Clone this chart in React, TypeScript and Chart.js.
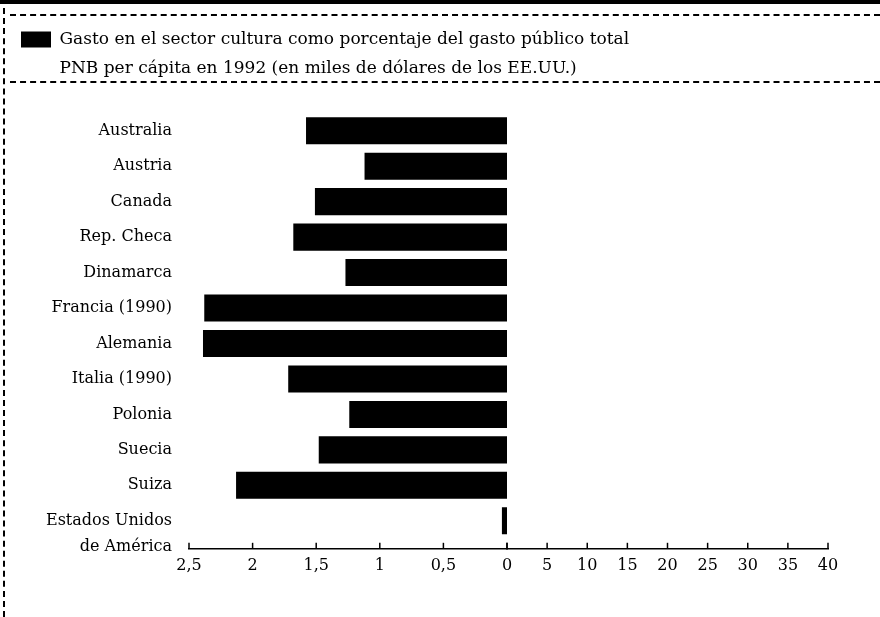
import React, { useEffect, useRef } from 'react';
import { Chart, registerables } from 'chart.js';

Chart.register(...registerables);

const countries: (string | string[])[] = [
  'Australia',
  'Austria',
  'Canada',
  'Rep. Checa',
  'Dinamarca',
  'Francia (1990)',
  'Alemania',
  'Italia (1990)',
  'Polonia',
  'Suecia',
  'Suiza',
  ['', 'Estados Unidos', 'de América'],
];

const culturePct = [1.58, 1.12, 1.51, 1.68, 1.27, 2.38, 2.39, 1.72, 1.24, 1.48, 2.13, 0.04];
const gnpPerCapita: (number | null)[] = [];

const cultureLabel = 'Gasto en el sector cultura como porcentaje del gasto público total';
const gnpLabel = 'PNB per cápita en 1992 (en miles de dólares de los EE.UU.)';

const leftMin = 0;
const leftMax = 2.5;
const leftStep = 0.5;
const rightMin = 0;
const rightMax = 40;
const rightStep = 5;

const FONT = 'DejaVu Serif';

const upTicks = {
  id: 'upTicks',
  afterDraw(chart: any) {
    const ctx = chart.ctx;
    ctx.save();
    ctx.strokeStyle = '#000';
    ctx.lineWidth = 1.5;
    ['x', 'x2'].forEach((id) => {
      const s = chart.scales[id];
      if (!s) return;
      s.ticks.forEach((t: any) => {
        const px = s.getPixelForValue(t.value);
        ctx.beginPath();
        ctx.moveTo(px, s.top);
        ctx.lineTo(px, s.top - 6);
        ctx.stroke();
      });
    });
    ctx.restore();
  },
};

export default function App() {
  const ref = useRef<HTMLCanvasElement>(null);
  useEffect(() => {
    document.body.style.margin = '0';
    const chart = new Chart(ref.current!, {
      type: 'bar',
      data: {
        labels: countries as any,
        datasets: [
          {
            label: cultureLabel,
            data: culturePct,
            xAxisID: 'x',
            yAxisID: 'y',
            backgroundColor: '#000',
            borderWidth: 0,
            grouped: false,
            categoryPercentage: 1,
            barPercentage: 0.763,
          } as any,
          {
            label: gnpLabel,
            data: gnpPerCapita,
            xAxisID: 'x2',
            yAxisID: 'y',
            backgroundColor: 'rgba(0,0,0,0)',
            borderColor: 'rgba(0,0,0,0)',
            borderWidth: 0,
            grouped: false,
            categoryPercentage: 1,
            barPercentage: 0.763,
          } as any,
        ],
      },
      options: {
        indexAxis: 'y',
        responsive: false,
        animation: false,
        layout: { padding: { left: 9, right: 52, top: 19, bottom: 35 } },
        plugins: {
          legend: {
            display: true,
            position: 'top',
            align: 'start',
            labels: {
              boxWidth: 30,
              boxHeight: 16,
              padding: 12,
              color: '#000',
              font: { family: FONT, size: 17 },
            },
          },
          tooltip: { enabled: false },
        },
        scales: {
          pad: {
            type: 'linear',
            position: 'top',
            display: true,
            grid: { display: false, drawTicks: false },
            border: { display: false },
            ticks: { display: false },
            afterFit: (s: any) => {
              s.height = 26;
            },
          },
          y: {
            type: 'category',
            position: 'left',
            grid: { display: false, drawTicks: false },
            border: { display: false },
            ticks: {
              color: '#000',
              padding: 17,
              autoSkip: false,
              font: { family: FONT, size: 16, lineHeight: 1.6 },
            },
            afterFit: (s: any) => {
              s.width = 180;
            },
            afterBuildTicks: (s: any) => {
              s._valueRange = 12.29;
            },
          },
          x: {
            type: 'linear',
            position: 'bottom',
            stack: 'bottomStack',
            stackWeight: 318,
            reverse: true,
            min: leftMin,
            max: leftMax,
            grid: { display: false, drawTicks: false },
            border: { display: true, color: '#000', width: 1.5 },
            ticks: {
              stepSize: leftStep,
              color: '#000',
              padding: 7,
              maxRotation: 0,
              autoSkip: false,
              font: { family: FONT, size: 16 },
              callback: (v: any) => (Number(v) === 0 ? '' : String(v).replace('.', ',')),
            },
          },
          x2: {
            type: 'linear',
            position: 'bottom',
            stack: 'bottomStack',
            stackWeight: 321,
            min: rightMin,
            max: rightMax,
            grid: { display: false, drawTicks: false },
            border: { display: true, color: '#000', width: 1.5 },
            ticks: {
              stepSize: rightStep,
              color: '#000',
              padding: 7,
              maxRotation: 0,
              autoSkip: false,
              font: { family: FONT, size: 16 },
            },
          },
        },
      } as any,
      plugins: [upTicks],
    });
    return () => chart.destroy();
  }, []);

  return (
    <div style={{ position: 'relative', width: 880, height: 617, background: '#fff', overflow: 'hidden' }}>
      <canvas ref={ref} width={880} height={617} style={{ position: 'absolute', left: 0, top: 0 }} />
      <div style={{ position: 'absolute', left: 0, top: 0, width: 880, height: 4, background: '#000' }} />
      <div style={{ position: 'absolute', left: 10, top: 14, width: 870, borderTop: '2px dashed #000' }} />
      <div style={{ position: 'absolute', left: 10, top: 81, width: 870, borderTop: '2px dashed #000' }} />
      <div style={{ position: 'absolute', left: 3, top: 8, width: 0, height: 609, borderLeft: '2px dashed #000' }} />
    </div>
  );
}
